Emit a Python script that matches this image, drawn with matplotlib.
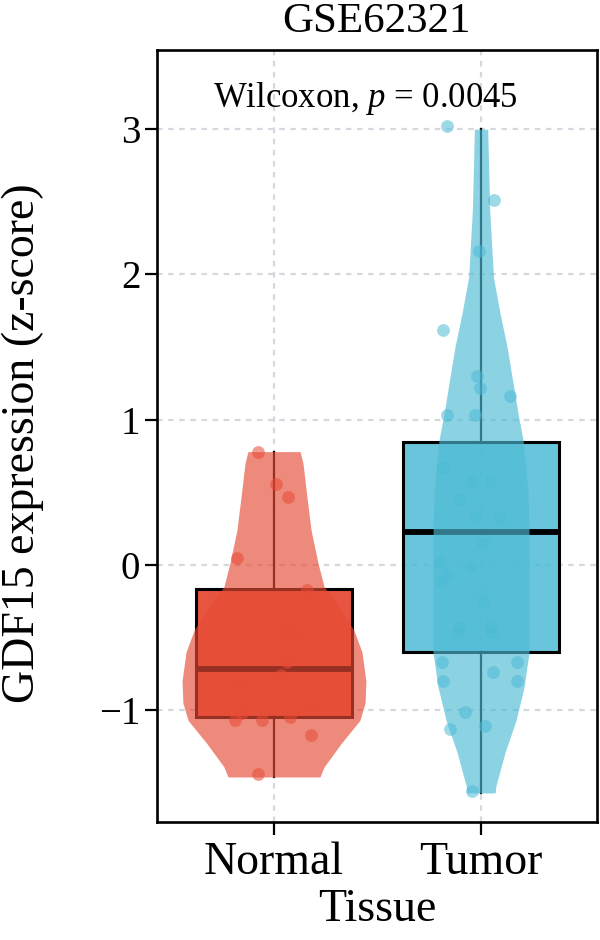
import matplotlib
matplotlib.use("Agg")
import matplotlib.pyplot as plt
import matplotlib.transforms as mtransforms
import matplotlib.colors as mcolors
import numpy as np

# ---------------- data ----------------
groups = ["Normal", "Tumor"]
title = "GSE62321"
ylabel = "GDF15 expression (z-score)"
xlabel = "Tissue"
annot = r"Wilcoxon, $p$ = 0.0045"
yticks = [-1, 0, 1, 2, 3]

# box statistics (whisker low, Q1, median, Q3, whisker high)
normal_box = [-1.46, -1.05, -0.72, -0.165, 0.78]
tumor_box = [-1.57, -0.60, 0.23, 0.845, 3.00]

# violin outline: y levels and half widths (x units)
normal_vy = [0.78, 0.70, 0.47, 0.24, 0.01, -0.15, -0.30, -0.45, -0.60, -0.80, -0.95, -1.07, -1.23, -1.39, -1.46]
normal_vw = [0.126, 0.140, 0.159, 0.179, 0.213, 0.242, 0.319, 0.386, 0.425, 0.444, 0.440, 0.415, 0.324, 0.242, 0.222]
tumor_vy = [3.00, 2.44, 1.98, 1.73, 1.50, 1.04, 0.86, 0.50, 0.20, -0.20, -0.60, -0.84, -1.07, -1.29, -1.52, -1.57]
tumor_vw = [0.032, 0.042, 0.060, 0.092, 0.126, 0.179, 0.203, 0.227, 0.232, 0.232, 0.232, 0.208, 0.169, 0.116, 0.072, 0.068]

# jittered points: values and horizontal offsets
normal_pts = [0.78, 0.56, 0.47, 0.05, -0.17, -0.45, -0.48, -0.67, -0.76, -0.81, -0.98, -1.07, -1.07, -1.05, -1.17, -1.44, -1.02]
normal_dx = [-0.077, 0.010, 0.068, -0.179, 0.159, 0.053, 0.097, 0.063, 0.034, -0.174, 0.184, -0.188, -0.058, 0.077, 0.179, -0.077, -0.155]
tumor_pts = [3.02, 2.51, 2.16, 1.62, 1.30, 1.22, 1.16, 1.03, 1.03, 0.67, 0.58, 0.57, 0.45, 0.33, 0.32, 0.15,
             0.01, -0.01, -0.07, -0.12, -0.25, -0.43, -0.43, -0.47, -0.46, -0.67, -0.67, -0.74, -0.80, -0.80,
             -1.01, -1.13, -1.11, -1.56]
tumor_dx = [-0.164, 0.063, -0.010, -0.184, -0.019, -0.005, 0.140, -0.164, -0.029, -0.184, -0.043, 0.043, -0.101,
            -0.029, 0.092, 0.010, -0.198, -0.053, -0.164, -0.188, 0.010, -0.101, 0.043, -0.116, 0.053, -0.188,
            0.174, 0.058, -0.184, 0.174, -0.077, -0.150, 0.019, -0.043]

RED = "#E64B35"
BLUE = "#4DBBD5"

plt.rcParams["font.family"] = ["Liberation Serif", "DejaVu Serif"]
plt.rcParams["mathtext.fontset"] = "custom"
plt.rcParams["mathtext.rm"] = "Liberation Serif"
plt.rcParams["mathtext.it"] = "Liberation Serif:italic"

fig = plt.figure(figsize=(6, 9.4), dpi=100)
ax = fig.add_axes([157 / 600, 1 - 822 / 940, 440 / 600, 772 / 940])
ax.set_xlim(0.435, 2.56)
ax.set_ylim(-1.77, 3.545)

# grid
grid_kw = dict(color="#D3D9DF", lw=1.6, ls=(0, (2.5, 2.5)), zorder=0)
for yt in yticks:
    ax.axhline(yt, **grid_kw)
for i in range(len(groups)):
    ax.axvline(i + 1, **grid_kw)

# boxes
stats = []
for g, b in zip(groups, [normal_box, tumor_box]):
    stats.append(dict(label=g, whislo=b[0], q1=b[1], med=b[2], q3=b[3], whishi=b[4]))
bp = ax.bxp(stats, positions=[1, 2], widths=0.75, patch_artist=True, showcaps=False, showfliers=False,
            boxprops=dict(lw=2.2, edgecolor="black"),
            whiskerprops=dict(lw=1.6, color="black"),
            medianprops=dict(lw=4.2, color="black"), manage_ticks=False, zorder=2)
for patch, c, a in zip(bp["boxes"], [RED, BLUE], [0.95, 0.85]):
    patch.set_facecolor(mcolors.to_rgba(c, a))

# violins on top
for i, (vy, vw, c) in enumerate([(normal_vy, normal_vw, RED), (tumor_vy, tumor_vw, BLUE)]):
    vy = np.array(vy)
    vw = np.array(vw)
    ax.fill_betweenx(vy, i + 1 - vw, i + 1 + vw, color=c, alpha=0.65, lw=0, zorder=3)

# points
ax.scatter(1 + np.array(normal_dx), normal_pts, s=85, color=RED, alpha=0.55, lw=0, zorder=4)
ax.scatter(2 + np.array(tumor_dx), tumor_pts, s=85, color=BLUE, alpha=0.55, lw=0, zorder=4)

# axes styling
for sp in ax.spines.values():
    sp.set_linewidth(1.9)
    sp.set_color("black")
ax.set_yticks(yticks)
ax.set_yticklabels([f"{v}".replace("-", "\u2212") for v in yticks], fontsize=28)
ax.set_xticks([1, 2])
ax.set_xticklabels(groups, fontsize=33)
ax.tick_params(axis="both", length=9, width=1.6, color="black")
ax.tick_params(axis="y", pad=3)
ax.tick_params(axis="x", pad=5)

ax.text(0.127, 3.15, annot, fontsize=25, ha="left", va="baseline",
        transform=mtransforms.blended_transform_factory(ax.transAxes, ax.transData))

fig.text(377 / 600, 1 - 32 / 940, title, fontsize=31, ha="center", va="baseline")
fig.text(23 / 600, 1 - 443 / 940, ylabel, fontsize=33, rotation=90, ha="center", va="center")
fig.text(377 / 600, 1 - 921 / 940, xlabel, fontsize=33, ha="center", va="baseline")

fig.savefig("out.png", dpi=100)
